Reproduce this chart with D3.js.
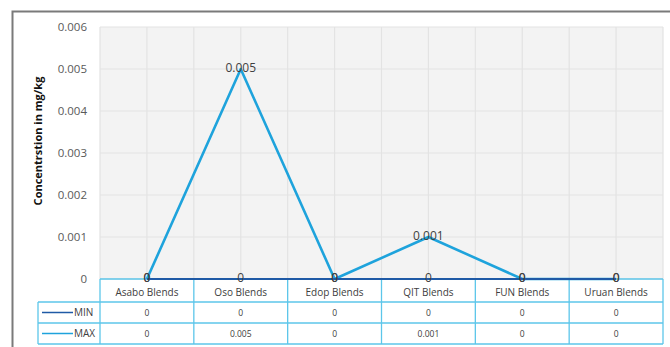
<!DOCTYPE html>
<html>
<head>
<meta charset="utf-8">
<script src="https://cdn.jsdelivr.net/npm/d3@7"></script>
<style>
  html, body { margin: 0; padding: 0; background: #fff; }
  svg { display: block; font-family: "Open Sans", "Noto Sans", sans-serif; }
</style>
</head>
<body>
<svg id="chart" width="670" height="347"></svg>
<script>
// Blend categories and measured concentrations (mg/kg)
const categories = ["Asabo Blends", "Oso Blends", "Edop Blends", "QIT Blends", "FUN Blends", "Uruan Blends"];
const minValues = [0, 0, 0, 0, 0, 0];
const maxValues = [0, 0.005, 0, 0.001, 0, 0];
const tableMin = ["0", "0", "0", "0", "0", "0"];
const tableMax = ["0", "0.005", "0", "0.001", "0", "0"];
const yTicks = [0, 0.001, 0.002, 0.003, 0.004, 0.005, 0.006];
const seriesNames = ["MIN", "MAX"];
const yTitle = "Concentrstion in mg/kg";

const colors = { MIN: "#1f5aa6", MAX: "#1ea3dc" };
const tableStroke = "#5cc6ea";

const svg = d3.select("#chart");

// outer frame
svg.append("path")
  .attr("d", "M12.5,347 L12.5,11.5 L670,11.5")
  .attr("fill", "none").attr("stroke", "#7a7a7a").attr("stroke-width", 2);

const plot = { left: 100, right: 663, top: 27, bottom: 279 };

const x = d3.scaleBand().domain(categories).range([plot.left, plot.right]);
const y = d3.scaleLinear().domain([0, 0.006]).range([plot.bottom, plot.top]);

// plot background
svg.append("rect")
  .attr("x", plot.left).attr("y", plot.top)
  .attr("width", plot.right - plot.left).attr("height", plot.bottom - plot.top)
  .attr("fill", "#f3f3f3");

// gridlines
const grid = svg.append("g").attr("stroke", "#e3e3e3").attr("stroke-width", 1.2);
yTicks.forEach(t => {
  grid.append("line").attr("x1", plot.left).attr("x2", plot.right)
    .attr("y1", y(t)).attr("y2", y(t));
});
const vLines = [];
categories.forEach(c => { vLines.push(x(c)); vLines.push(x(c) + x.bandwidth() / 2); });
vLines.push(plot.right);
vLines.forEach(v => {
  grid.append("line").attr("x1", v).attr("x2", v)
    .attr("y1", plot.top).attr("y2", plot.bottom);
});

// y axis labels
const yAxis = d3.axisLeft(y).tickValues(yTicks).tickSize(0).tickPadding(13)
  .tickFormat(d => d === 0 ? "0" : d3.format(".3f")(d));
const yg = svg.append("g").attr("transform", `translate(${plot.left},0)`).call(yAxis);
yg.select(".domain").remove();
yg.selectAll("text").attr("fill", "#595959").attr("font-size", 11.5)
  .attr("font-family", "'Open Sans', sans-serif");

// y axis title
svg.append("text")
  .attr("transform", `translate(42,${(plot.top + plot.bottom) / 2 - 12}) rotate(-90)`)
  .attr("text-anchor", "middle")
  .attr("font-size", 11).attr("font-weight", "bold").attr("fill", "#111")
  .text(yTitle);

// data table
const rowH = [279, 302, 323, 344];
const tableLeft = 38;
const tg = svg.append("g").attr("fill", "none").attr("stroke", tableStroke).attr("stroke-width", 1.3);
// horizontal rules
tg.append("line").attr("x1", plot.left).attr("x2", plot.right).attr("y1", rowH[0]).attr("y2", rowH[0]);
[1, 2, 3].forEach(i => {
  tg.append("line").attr("x1", tableLeft).attr("x2", plot.right).attr("y1", rowH[i]).attr("y2", rowH[i]);
});
// vertical rules
tg.append("line").attr("x1", tableLeft).attr("x2", tableLeft).attr("y1", rowH[1]).attr("y2", rowH[3]);
categories.forEach(c => {
  tg.append("line").attr("x1", x(c)).attr("x2", x(c)).attr("y1", rowH[0]).attr("y2", rowH[3]);
});
tg.append("line").attr("x1", plot.right).attr("x2", plot.right).attr("y1", rowH[0]).attr("y2", rowH[3]);

// category headers
svg.append("g").selectAll("text").data(categories).join("text")
  .attr("x", d => x(d) + x.bandwidth() / 2)
  .attr("y", (rowH[0] + rowH[1]) / 2 + 5)
  .attr("text-anchor", "middle").attr("font-size", 10).attr("fill", "#404040")
  .text(d => d);

// table values
[tableMin, tableMax].forEach((row, r) => {
  svg.append("g").selectAll("text").data(row).join("text")
    .attr("x", (d, i) => x(categories[i]) + x.bandwidth() / 2)
    .attr("y", (rowH[r + 1] + rowH[r + 2]) / 2 + 3.5)
    .attr("text-anchor", "middle").attr("font-size", 8.5).attr("fill", "#404040")
    .text(d => d);
});

// legend keys in the table
seriesNames.forEach((name, r) => {
  const cy = (rowH[r + 1] + rowH[r + 2]) / 2;
  svg.append("line").attr("x1", 42).attr("x2", 73).attr("y1", cy).attr("y2", cy)
    .attr("stroke", colors[name]).attr("stroke-width", 1.5);
  svg.append("text").attr("x", 74).attr("y", cy + 3.5)
    .attr("font-size", 10).attr("fill", "#404040").text(name);
});

// series lines
const line = d3.line().x((d, i) => x(categories[i]) + x.bandwidth() / 2).y(d => y(d));
svg.append("path").datum(maxValues).attr("d", line)
  .attr("fill", "none").attr("stroke", colors.MAX).attr("stroke-width", 2.6)
  .attr("stroke-linejoin", "round");
svg.append("path").datum(minValues).attr("d", line)
  .attr("fill", "none").attr("stroke", colors.MIN).attr("stroke-width", 2.2);

// data labels
[minValues, maxValues].forEach(vals => {
  svg.append("g").selectAll("text").data(vals).join("text")
    .attr("x", (d, i) => x(categories[i]) + x.bandwidth() / 2)
    .attr("y", d => y(d) + 3)
    .attr("text-anchor", "middle").attr("font-size", 12).attr("fill", "#404040")
    .text(d => d === 0 ? "0" : d3.format(".3f")(d));
});
</script>
</body>
</html>
